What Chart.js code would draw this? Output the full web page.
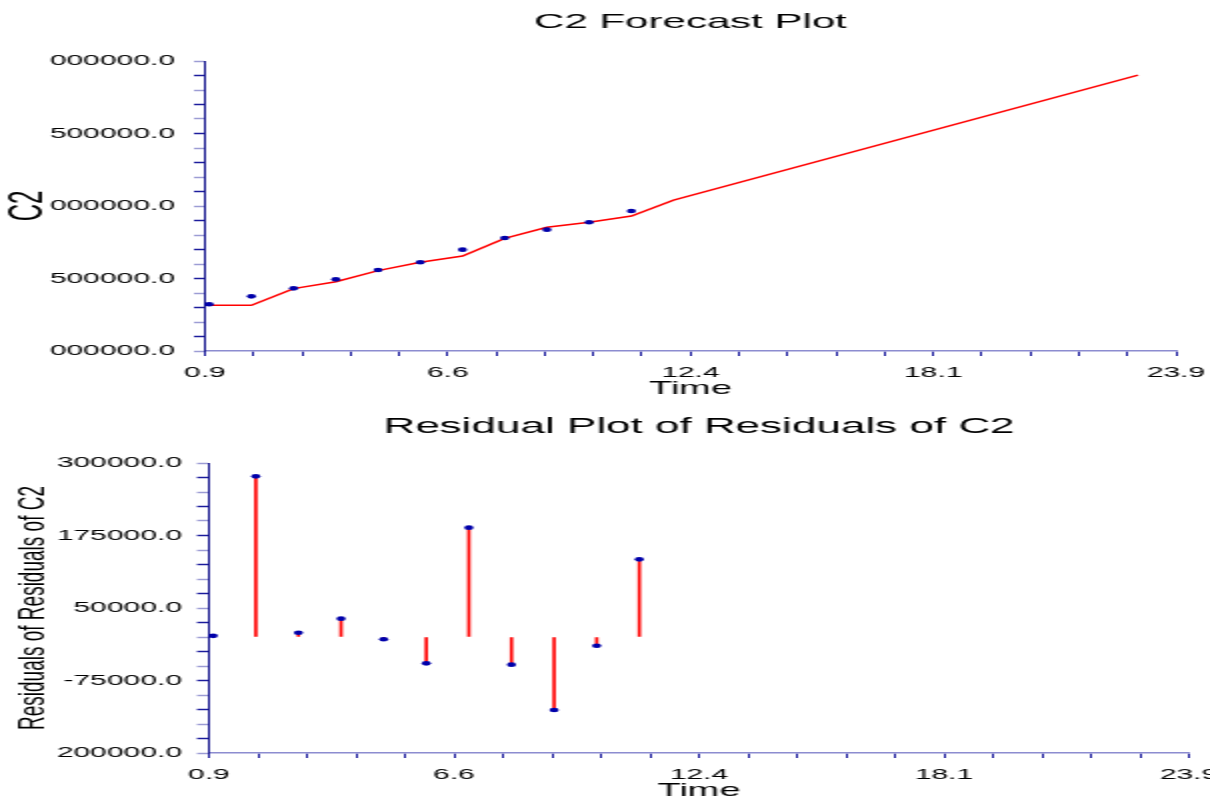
<!DOCTYPE html>
<html>
<head>
<meta charset="utf-8">
<title>C2 Forecast Plot</title>
<script src="https://cdn.jsdelivr.net/npm/chart.js@4.4.1/dist/chart.umd.min.js"></script>
<style>
    html, body { margin: 0; padding: 0; background: #fff; overflow: hidden; width: 1210px; height: 798px; }
    /* the original picture is a narrow plot stretched sideways, so draw narrow and stretch */
    #stage { position: absolute; left: 0; top: 0; width: 605px; height: 802px; transform: scaleX(2); transform-origin: 0 0; }
    #forecastCanvas { position: absolute; left: 0; top: 0; }
    #residualCanvas { position: absolute; left: 0; top: 400px; }
</style>
</head>
<body>
<div id="stage">
    <canvas id="forecastCanvas" width="605" height="400"></canvas>
    <canvas id="residualCanvas" width="605" height="402"></canvas>
</div>
<script>
// observed C2 values
const obsTime = [1, 2, 3, 4, 5, 6, 7, 8, 9, 10, 11];
const obsValue = [1322000, 1377000, 1432000, 1494000, 1559000, 1612000, 1699000, 1779000, 1837000, 1888000, 1966000];

// forecast line (straight from 12 to 23)
const fcTime = [1, 2, 3, 4, 5, 6, 7, 8, 9, 10, 11, 12, 23];
const fcValue = [1315000, 1315000, 1430000, 1478000, 1554000, 1612000, 1655000, 1777000, 1853000, 1888000, 1931000, 2041000, 2903000];

// residuals of residuals
const resTime = [1, 2, 3, 4, 5, 6, 7, 8, 9, 10, 11];
const resValue = [2000, 277000, 7400, 31600, -4000, -45400, 188500, -47700, -125900, -15000, 133900];

// axis ticks (labels as printed, leading digits cut off)
const xMajor = [0.9, 6.65, 12.4, 18.15, 23.9];
const xLabels = ['0.9', '6.6', '12.4', '18.1', '23.9'];
const topYMajor = [1000000, 1500000, 2000000, 2500000, 3000000];
const topYLabels = ['000000.0', '500000.0', '000000.0', '500000.0', '000000.0'];
const botYMajor = [-200000, -75000, 50000, 175000, 300000];
const botYLabels = ['200000.0', '-75000.0', '50000.0', '175000.0', '300000.0'];

const FONT = '"Liberation Sans", Arial, sans-serif';
const RED = '#ff0000';
const DOT = '#0000aa';

function withMinor(major, n) {
    const out = [];
    for (let i = 0; i < major.length - 1; i++) {
        const step = (major[i + 1] - major[i]) / n;
        for (let k = 0; k < n; k++) out.push(major[i] + k * step);
    }
    out.push(major[major.length - 1]);
    return out;
}

function xAxis() {
    return {
        type: 'linear',
        min: xMajor[0],
        max: xMajor[xMajor.length - 1],
        offset: false,
        afterBuildTicks: s => { s.ticks = withMinor(xMajor, 5).map(v => ({ value: v })); },
        afterFit: s => {
            s.height = 49;
            // let the layout padding alone decide where the plot ends
            s.paddingLeft = 0;
            s.paddingRight = 0;
        },
        grid: { drawOnChartArea: false, offset: false, tickLength: 5, tickWidth: 1, tickColor: '#1c1c9c' },
        border: { color: '#8c8cd0', width: 1.5 },
        ticks: {
            autoSkip: false, maxRotation: 0, padding: 8, color: '#000',
            font: { family: FONT, size: 15 },
            callback: (v, i) => (i % 5 === 0 ? xLabels[i / 5] : '')
        },
        title: { display: true, text: 'Time', color: '#000', font: { family: FONT, size: 19 }, padding: { top: 0, bottom: 0 } }
    };
}

function yAxis(major, labels, width, tickLen, pad, titleText, titleSize, titlePad) {
    return {
        type: 'linear',
        min: major[0],
        max: major[major.length - 1],
        afterBuildTicks: s => { s.ticks = withMinor(major, 5).map(v => ({ value: v })); },
        afterFit: s => { s.width = width; },
        grid: {
            drawOnChartArea: false, tickLength: tickLen, tickWidth: 1.5,
            tickColor: c => (c.index % 2 ? '#1c1c9c' : '#9c9cd4')
        },
        border: { color: '#14148c', width: 1 },
        ticks: {
            autoSkip: false, padding: pad, color: '#000',
            font: { family: FONT, size: 15 },
            callback: (v, i) => (i % 5 === 0 ? labels[i / 5] : '')
        },
        title: { display: true, text: titleText, color: '#000', font: { family: FONT, size: titleSize }, padding: { top: titlePad, bottom: 0 } }
    };
}

function dots(times, values) {
    return {
        type: 'line',
        data: times.map((t, i) => ({ x: t, y: values[i] })),
        showLine: false,
        pointRadius: 2.3,
        pointBorderWidth: 0,
        pointBackgroundColor: DOT,
        clip: false,
        order: 0
    };
}

// 1. FORECAST PLOT
new Chart(document.getElementById('forecastCanvas'), {
    type: 'line',
    data: {
        datasets: [{
            type: 'line',
            data: fcTime.map((t, i) => ({ x: t, y: fcValue[i] })),
            borderColor: RED,
            borderWidth: 1.5,
            pointRadius: 0,
            tension: 0,
            fill: false,
            clip: false,
            order: 1
        }, dots(obsTime, obsValue)]
    },
    options: {
        responsive: false,
        animation: false,
        events: [],
        layout: { padding: { left: 0, right: 17, top: 0, bottom: 0 } },
        plugins: {
            legend: { display: false },
            tooltip: { enabled: false },
            title: {
                display: true, fullSize: false, text: 'C2 Forecast Plot', color: '#000',
                font: { family: FONT, size: 21, weight: 'normal' },
                padding: { top: 9.4, bottom: 26.4 }
            }
        },
        scales: {
            x: xAxis(),
            y: yAxis(topYMajor, topYLabels, 102.5, 5.5, 9.5, 'C2', 24, 0)
        }
    }
});

// 2. RESIDUAL PLOT
new Chart(document.getElementById('residualCanvas'), {
    type: 'line',
    data: {
        datasets: [{
            type: 'bar',
            data: resTime.map((t, i) => ({ x: t, y: resValue[i] })),
            backgroundColor: RED,
            barThickness: 1,
            order: 1
        }, dots(resTime, resValue)]
    },
    options: {
        responsive: false,
        animation: false,
        events: [],
        layout: { padding: { left: 0, right: 10.5, top: 0, bottom: 0 } },
        plugins: {
            legend: { display: false },
            tooltip: { enabled: false },
            title: {
                display: true, fullSize: false, text: 'Residual Plot of Residuals of C2', color: '#000',
                font: { family: FONT, size: 22, weight: 'normal' },
                padding: { top: 13.8, bottom: 22.8 }
            }
        },
        scales: {
            x: xAxis(),
            y: yAxis(botYMajor, botYLabels, 104.5, 6, 7.5, 'Residuals of Residuals of C2', 19, 5)
        }
    }
});
</script>
</body>
</html>
